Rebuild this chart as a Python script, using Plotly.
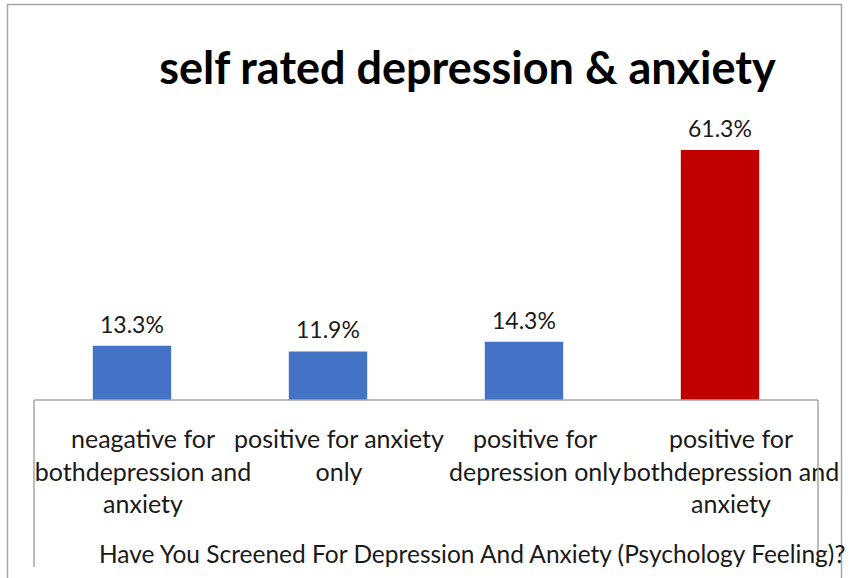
import plotly.graph_objects as go

categories = [
    "neagative for<br>bothdepression and<br>anxiety",
    "positive for anxiety<br>only",
    "positive for<br>depression only",
    "positive for<br>bothdepression and<br>anxiety",
]
values = [13.3, 11.9, 14.3, 61.3]
bar_colors = ["#4472C4", "#4472C4", "#4472C4", "#C00000"]
title_text = "self rated depression & anxiety"
axis_title = "Have You Screened For Depression And Anxiety (Psychology Feeling)?"

W, H = 851, 578
ML, MR, MT, MB = 34, 33, 114, 178
plot_w = W - ML - MR
plot_h = H - MT - MB
y_max = 70.1

def px_x(px):
    return (px - ML) / plot_w

def px_y(py):
    return (H - MB - py) / plot_h

fig = go.Figure(
    go.Bar(
        x=categories,
        y=values,
        marker=dict(color=bar_colors, line=dict(width=0)),
        width=0.4,
        cliponaxis=False,
    )
)

# value labels above each bar
label_annotations = [
    dict(x=c, y=v, xref="x", yref="y", text=f"{v}%",
         showarrow=False, xanchor="center", yanchor="bottom", yshift=6,
         font=dict(family="Lato", size=23, color="#1a1a1a"))
    for c, v in zip(categories, values)
]

grey = "#A6A6A6"
shapes = [
    # outer frame
    dict(type="rect", xref="paper", yref="paper",
         x0=px_x(7.5), x1=px_x(841.5), y0=px_y(600), y1=px_y(4.5),
         line=dict(color=grey, width=1.5), fillcolor="rgba(0,0,0,0)", layer="below"),
    # category axis box
    dict(type="line", xref="paper", yref="paper",
         x0=0, x1=1, y0=0, y1=0, line=dict(color=grey, width=1.5)),
    dict(type="line", xref="paper", yref="paper",
         x0=0, x1=0, y0=0, y1=px_y(567), line=dict(color=grey, width=1.5)),
    dict(type="line", xref="paper", yref="paper",
         x0=1, x1=1, y0=0, y1=px_y(567), line=dict(color=grey, width=1.5)),
]

fig.update_layout(
    width=W, height=H,
    margin=dict(l=ML, r=MR, t=MT, b=MB, pad=0, autoexpand=False),
    paper_bgcolor="white", plot_bgcolor="white",
    showlegend=False,
    title=dict(
        text=f"<b>{title_text}</b>",
        font=dict(family="Lato", size=45, color="#000000"),
        x=px_x(467.5), xref="paper", xanchor="center",
        y=1 - 68 / H, yref="container", yanchor="middle",
        automargin=False,
    ),
    xaxis=dict(
        showline=False, showgrid=False, zeroline=False,
        tickfont=dict(family="Lato", size=25, color="#1a1a1a"),
        tickangle=0, automargin=False,
        ticks="", ticklabelstandoff=22, ticklabelshift=11,
    ),
    yaxis=dict(
        range=[0, y_max], visible=False, showgrid=False, zeroline=False,
        automargin=False,
    ),
    shapes=shapes,
    annotations=label_annotations + [
        dict(text=axis_title, xref="paper", yref="paper",
             x=px_x(472), y=px_y(553), xanchor="center", yanchor="middle",
             showarrow=False,
             font=dict(family="Lato", size=24.5, color="#1a1a1a")),
    ],
)

fig.write_html("out.html")
